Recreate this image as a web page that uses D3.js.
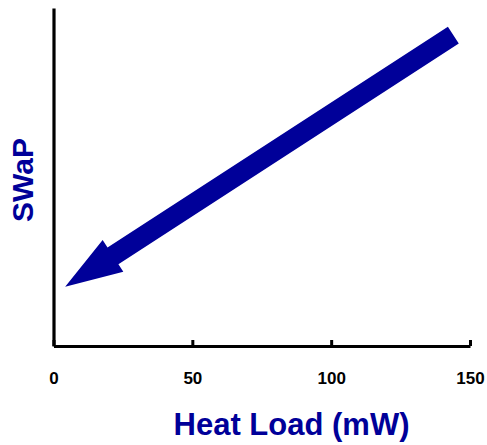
<!DOCTYPE html>
<html><head><meta charset="utf-8">
<script src="https://cdn.jsdelivr.net/npm/d3@7"></script>
<style>body{margin:0;background:#fff}svg{display:block}</style>
</head><body>
<script>
const xTicks = [0, 50, 100, 150];
const xDomain = [0, 150];
const yDomain = [0, 100];
// arrow: from tail (high heat load, high SWaP) to tip (low heat load, low SWaP)
const arrowX = [144, 4.2];
const arrowY = [92, 17.5];
const xTitle = "Heat Load (mW)";
const yTitle = "SWaP";

const W = 487, H = 445;
const blue = "#000099";
const font = "Arial, 'Liberation Sans', sans-serif";
const svg = d3.select("body").append("svg").attr("width", W).attr("height", H);

const x = d3.scaleLinear().domain(xDomain).range([53.5, 470]);
const y = d3.scaleLinear().domain(yDomain).range([346, 8]);

// axes
const xAxis = svg.append("g").attr("transform", `translate(0,${y(0)})`)
  .call(d3.axisBottom(x).tickValues(xTicks).tickSize(-6).tickPadding(0).tickSizeOuter(0));
xAxis.select(".domain").attr("stroke", "#000").attr("stroke-width", 3.2);
xAxis.selectAll(".tick line").attr("stroke", "#000").attr("stroke-width", 3);
xAxis.selectAll(".tick text").attr("y", 38).attr("dy", 0)
  .attr("font-family", font).attr("font-weight", "bold").attr("font-size", 17).attr("fill", "#000");

const yAxis = svg.append("g").attr("transform", `translate(${x(0)},0)`)
  .call(d3.axisLeft(y).tickValues([]).tickSizeOuter(0));
yAxis.select(".domain").attr("stroke", "#000").attr("stroke-width", 3.2);

// arrow
const tail = [x(arrowX[0]), y(arrowY[0])];
const tip = [x(arrowX[1]), y(arrowY[1])];
const dx = tip[0] - tail[0], dy = tip[1] - tail[1];
const L = Math.hypot(dx, dy);
const u = [dx / L, dy / L], n = [-u[1], u[0]];
const headLen = 57, headHalf = 19, shaftHalf = 10;
const base = [tip[0] - u[0] * headLen, tip[1] - u[1] * headLen];
const pt = (p, k) => [p[0] + n[0] * k, p[1] + n[1] * k];
const poly = [pt(tail, shaftHalf), pt(base, shaftHalf), pt(base, headHalf), tip,
  pt(base, -headHalf), pt(base, -shaftHalf), pt(tail, -shaftHalf)];
svg.append("path").attr("d", d3.line()(poly) + "Z").attr("fill", blue);

// titles
svg.append("text").attr("x", 291.5).attr("y", 435).attr("text-anchor", "middle")
  .attr("font-family", font).attr("font-weight", "bold").attr("font-size", 31)
  .attr("fill", blue).text(xTitle);
svg.append("text").attr("transform", "translate(33,180) rotate(-90)").attr("text-anchor", "middle")
  .attr("font-family", font).attr("font-weight", "bold").attr("font-size", 30)
  .attr("fill", blue).text(yTitle);
</script>
</body></html>
